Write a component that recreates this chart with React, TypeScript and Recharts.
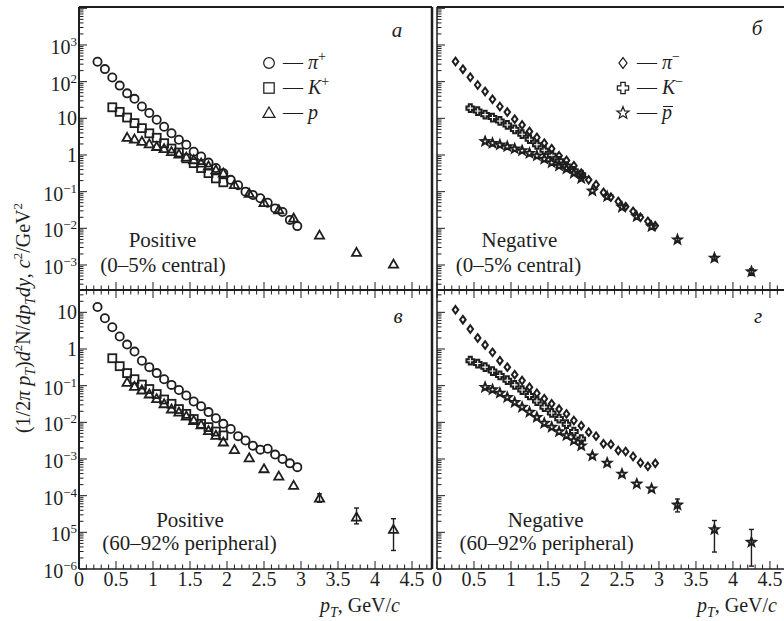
import React from "react";
import { ScatterChart, Scatter, XAxis, YAxis, ErrorBar, ReferenceLine, Legend } from "recharts";

// transverse-momentum bins, GeV/c
const pionPt = [0.25, 0.35, 0.45, 0.55, 0.65, 0.75, 0.85, 0.95, 1.05, 1.15, 1.25, 1.35, 1.45, 1.55, 1.65, 1.75, 1.85, 1.95, 2.05, 2.15, 2.25, 2.35, 2.45, 2.55, 2.65, 2.75, 2.85, 2.95];
const kaonPt = [0.45, 0.55, 0.65, 0.75, 0.85, 0.95, 1.05, 1.15, 1.25, 1.35, 1.45, 1.55, 1.65, 1.75, 1.85, 1.95];
const protonPt = [0.65, 0.75, 0.85, 0.95, 1.05, 1.15, 1.25, 1.35, 1.45, 1.55, 1.65, 1.75, 1.85, 1.95, 2.1, 2.3, 2.5, 2.7, 2.9, 3.25, 3.75, 4.25];
const errPt = [3.25, 3.75, 4.25];

// 0-5% central
const piPlusCentral = [350, 220, 130, 78, 48, 34, 21, 14, 9.1, 5.9, 3.9, 2.6, 1.9, 1.23, 0.91, 0.62, 0.44, 0.32, 0.21, 0.15, 0.1, 0.081, 0.066, 0.05, 0.035, 0.028, 0.017, 0.0115];
const kPlusCentral = [20, 15, 10.5, 7.4, 5.4, 3.9, 2.95, 2.1, 1.5, 1.17, 0.81, 0.6, 0.44, 0.32, 0.23, 0.18];
const pCentral = [3.0, 2.7, 2.35, 2.0, 1.7, 1.48, 1.23, 1.05, 0.87, 0.74, 0.6, 0.5, 0.39, 0.32, 0.155, 0.089, 0.05, 0.032, 0.019, 0.0065, 0.0022, 0.00105];
const piMinusCentral = [355, 219, 132, 81, 54, 33, 21, 14.8, 9.5, 6.6, 4.4, 3.0, 2.1, 1.48, 0.95, 0.71, 0.51, 0.32, 0.21, 0.155, 0.095, 0.071, 0.054, 0.039, 0.029, 0.02, 0.0155, 0.0117];
const kMinusCentral = [19, 15.8, 12.6, 10.5, 8.5, 6.6, 5.0, 3.7, 2.7, 1.9, 1.35, 0.98, 0.69, 0.5, 0.37, 0.29];
const pBarCentral = [2.35, 2.1, 1.9, 1.7, 1.48, 1.32, 1.12, 0.95, 0.78, 0.62, 0.51, 0.42, 0.32, 0.23, 0.105, 0.074, 0.038, 0.021, 0.0112, 0.0049, 0.00155, 0.00066];
const pBarCentralLo = [0.0045, 0.0014, 0.00052];
const pBarCentralHi = [0.0053, 0.0017, 0.00079];

// 60-92% peripheral
const piPlusPeriph = [14, 6.9, 3.9, 2.2, 1.32, 0.85, 0.48, 0.32, 0.22, 0.15, 0.105, 0.076, 0.054, 0.037, 0.0275, 0.019, 0.0129, 0.0091, 0.0066, 0.0042, 0.0032, 0.0023, 0.0018, 0.0019, 0.00132, 0.001, 0.00076, 0.0006];
const kPlusPeriph = [0.56, 0.34, 0.22, 0.15, 0.107, 0.081, 0.059, 0.042, 0.032, 0.023, 0.017, 0.0123, 0.0091, 0.0074, 0.0056, 0.0044];
const pPeriph = [0.123, 0.095, 0.076, 0.059, 0.044, 0.032, 0.023, 0.019, 0.0148, 0.0112, 0.0085, 0.0059, 0.0044, 0.0029, 0.0018, 0.00107, 0.00054, 0.00034, 0.00019, 0.000085, 0.000026, 0.000012];
const pPeriphLo = [0.000066, 0.000017, 0.0000032];
const pPeriphHi = [0.000112, 0.000046, 0.0000235];
const piMinusPeriph = [11.7, 6.3, 3.5, 2.0, 1.29, 0.81, 0.48, 0.32, 0.2, 0.138, 0.091, 0.062, 0.044, 0.032, 0.023, 0.017, 0.0112, 0.0081, 0.0054, 0.0042, 0.0026, 0.0025, 0.0017, 0.0016, 0.00117, 0.00079, 0.00063, 0.00076];
const kMinusPeriph = [0.48, 0.4, 0.32, 0.25, 0.19, 0.141, 0.105, 0.076, 0.054, 0.038, 0.026, 0.018, 0.0126, 0.0089, 0.0056, 0.0035];
const pBarPeriph = [0.091, 0.078, 0.063, 0.048, 0.035, 0.026, 0.019, 0.0138, 0.0095, 0.0074, 0.0056, 0.0044, 0.0032, 0.0023, 0.00123, 0.00078, 0.00039, 0.00021, 0.000155, 0.000056, 0.000012, 0.0000054];
const pBarPeriphLo = [0.000036, 0.0000029, 0.0000012];
const pBarPeriphHi = [0.000081, 0.000021, 0.000012];

// axis labels
const xMajor = [0, 0.5, 1, 1.5, 2, 2.5, 3, 3.5, 4, 4.5];
const xTickLabels = ["0", "0.5", "1", "1.5", "2", "2.5", "3", "3.5", "4", "4.5"];
const topDecades = [-3, -2, -1, 0, 1, 2, 3];
const topYLabels = [["10", "−3"], ["10", "−2"], ["10", "−1"], ["1", ""], ["10", ""], ["10", "2"], ["10", "3"]];
const bottomDecades = [-6, -5, -4, -3, -2, -1, 0, 1];
const bottomYLabels = [["10", "−6"], ["10", "5"], ["10", "−4"], ["10", "−3"], ["10", "−2"], ["10", "−1"], ["1", ""], ["10", ""]];

const INK = "#1e1e1e";
const SERIF = '"Liberation Serif", "Times New Roman", serif';

type Kind = "circle" | "square" | "triangle" | "diamond" | "plus" | "star";

function Mark({ kind, cx, cy, s = 1, sw = 1.5 }: { kind: Kind; cx: number; cy: number; s?: number; sw?: number }) {
  const st = { fill: "none", stroke: INK, strokeWidth: sw };
  if (kind === "circle") return <circle cx={cx} cy={cy} r={4.1 * s} {...st} />;
  if (kind === "square") {
    const h = 4 * s;
    return <rect x={cx - h} y={cy - h} width={2 * h} height={2 * h} {...st} />;
  }
  if (kind === "triangle") {
    const h = 4.6 * s;
    return <polygon points={`${cx},${cy - h} ${cx + h},${cy + h * 0.75} ${cx - h},${cy + h * 0.75}`} {...st} />;
  }
  if (kind === "diamond") {
    const w = 3.1 * s, h = 4.2 * s;
    return <polygon points={`${cx},${cy - h} ${cx + w},${cy} ${cx},${cy + h} ${cx - w},${cy}`} {...st} />;
  }
  if (kind === "plus") {
    const a = 1.7 * s, e = 4.3 * s;
    const d = `M${cx - a},${cy - e}H${cx + a}V${cy - a}H${cx + e}V${cy + a}H${cx + a}V${cy + e}H${cx - a}V${cy + a}H${cx - e}V${cy - a}H${cx - a}Z`;
    return <path d={d} {...st} />;
  }
  const pts: string[] = [];
  for (let i = 0; i < 10; i++) {
    const r = (i % 2 ? 2.1 : 4.9) * s;
    const ang = ((-90 + i * 36) * Math.PI) / 180;
    pts.push(`${cx + r * Math.cos(ang)},${cy + r * Math.sin(ang)}`);
  }
  return <polygon points={pts.join(" ")} {...st} />;
}

type SeriesDef = {
  name: string;
  kind: Kind;
  label: React.ReactNode;
  xs: number[];
  ys: number[];
  lo?: number[];
  hi?: number[];
  s: number;
  sw: number;
};

const rows = (d: SeriesDef) =>
  d.xs.map((x, i) => {
    const r: any = { x, y: d.ys[i] };
    const k = errPt.indexOf(x);
    if (d.lo && d.hi && k >= 0) r.err = [d.ys[i] - d.lo[k], d.hi[k] - d.ys[i]];
    return r;
  });

const logTicks = (lo: number, hi: number) => {
  const out: number[] = [];
  for (let k = Math.floor(lo); k <= Math.ceil(hi); k++) {
    for (let m = 1; m <= 9; m++) {
      const v = m * Math.pow(10, k);
      const l = Math.log10(v);
      if (l >= lo && l <= hi) out.push(v);
    }
  }
  return out;
};

function makeYTick(labels: string[][] | null, decades: number[]) {
  return (p: any) => {
    const { x, y, payload } = p;
    const lg = Math.log10(payload.value);
    const major = Math.abs(lg - Math.round(lg)) < 1e-6;
    const idx = decades.indexOf(Math.round(lg));
    const lab = major && labels && idx >= 0 ? labels[idx] : null;
    return (
      <g>
        <line x1={x} x2={x + (major ? 8 : 4.5)} y1={y} y2={y} stroke={INK} strokeWidth={1} />
        {lab && (
          <text x={x - 2} y={y + (lab[1] ? 9 : 7)} textAnchor="end" fontFamily={SERIF} fontSize={20} fill={INK}>
            {lab[0]}
            {lab[1] && (
              <tspan dy={-8} fontSize={13}>
                {lab[1]}
              </tspan>
            )}
          </text>
        )}
      </g>
    );
  };
}

function makeXTick(mode: "mid" | "bottom") {
  return (p: any) => {
    const { x, y, payload } = p;
    const v = payload.value;
    const idx = xMajor.findIndex((m) => Math.abs(m - v) < 1e-6);
    const len = idx >= 0 ? 8 : 4.5;
    return (
      <g>
        <line x1={x} x2={x} y1={y - len} y2={mode === "mid" ? y + len : y} stroke={INK} strokeWidth={1} />
        {mode === "bottom" && idx >= 0 && (
          <text x={x} y={y + 17} textAnchor="middle" fontFamily={SERIF} fontSize={20} fill={INK}>
            {xTickLabels[idx]}
          </text>
        )}
      </g>
    );
  };
}

type PanelProps = {
  left: number;
  right: number;
  top: number;
  bottom: number;
  xMax: number;
  logLo: number;
  logHi: number;
  isTop: boolean;
  isLeft: boolean;
  series: SeriesDef[];
  labels: string[][] | null;
  decades: number[];
  legendAt?: { left: number; top: number };
};

function Panel(p: PanelProps) {
  const xTicks: number[] = [];
  for (let i = 0; i * 0.1 <= p.xMax + 1e-9; i++) xTicks.push(Math.round(i) / 10);
  const yLo = Math.pow(10, p.logLo);
  const yHi = Math.pow(10, p.logHi);
  const renderLegend = (lp: any) => {
    const items = lp.payload || [];
    return (
      <div style={{ fontFamily: SERIF, fontSize: 20, color: INK, lineHeight: "25px" }}>
        {p.series
          .filter((s) => items.some((e: any) => e.value === s.name))
          .map((s) => (
            <div key={s.name} style={{ height: 25, display: "flex", alignItems: "center", whiteSpace: "nowrap" }}>
              <svg width={16} height={16}>
                <Mark kind={s.kind} cx={8} cy={8} s={1.3} sw={1.25} />
              </svg>
              <span style={{ marginLeft: 6 }}>— {s.label}</span>
            </div>
          ))}
      </div>
    );
  };
  return (
    <div style={{ position: "absolute", left: 0, top: 0 }}>
      <ScatterChart
        width={784}
        height={621}
        margin={{ top: p.top, left: p.left - 1, right: 784 - p.right, bottom: 621 - p.bottom - 1 }}
      >
        <XAxis
          type="number"
          dataKey="x"
          domain={[0, p.xMax]}
          allowDataOverflow
          ticks={xTicks}
          interval={0}
          height={1}
          tickSize={0}
          tickMargin={0}
          tickLine={false}
          tick={makeXTick(p.isTop ? "mid" : "bottom")}
          axisLine={{ stroke: INK, strokeWidth: p.isTop ? 2 : 1.5 }}
        />
        <YAxis
          type="number"
          dataKey="y"
          scale="log"
          domain={[yLo, yHi]}
          allowDataOverflow
          ticks={logTicks(p.logLo, p.logHi)}
          interval={0}
          width={1}
          tickSize={0}
          tickMargin={0}
          tickLine={false}
          tick={makeYTick(p.isLeft ? p.labels : null, p.decades)}
          axisLine={{ stroke: INK, strokeWidth: p.isLeft ? 2 : 1.5 }}
        />
        {p.isTop && <ReferenceLine y={yHi} stroke={INK} strokeWidth={2} />}
        {p.isLeft && <ReferenceLine x={p.xMax} stroke={INK} strokeWidth={2.5} />}
        {p.series.map((d) => (
          <Scatter
            key={d.name}
            name={d.name}
            data={rows(d)}
            isAnimationActive={false}
            shape={(sp: any) => <Mark kind={d.kind} cx={sp.cx} cy={sp.cy} s={d.s} sw={d.sw} />}
          >
            {d.lo && <ErrorBar dataKey="err" direction="y" width={2.5} stroke={INK} strokeWidth={1.4} />}
          </Scatter>
        ))}
        {p.legendAt && (
          <Legend
            layout="vertical"
            align="center"
            verticalAlign="middle"
            wrapperStyle={{ left: p.legendAt.left, top: p.legendAt.top, width: 90 }}
            content={renderLegend}
          />
        )}
      </ScatterChart>
    </div>
  );
}

const sup = (t: string) => <sup style={{ fontSize: 14, lineHeight: 0 }}>{t}</sup>;
const piPlusLabel = <><i>π</i>{sup("+")}</>;
const kPlusLabel = <><i>K</i>{sup("+")}</>;
const pLabel = <i>p</i>;
const piMinusLabel = <><i>π</i>{sup("−")}</>;
const kMinusLabel = <><i>K</i>{sup("−")}</>;
const pBarLabel = (
  <span style={{ position: "relative", display: "inline-block" }}>
    <i>p</i>
    <span style={{ position: "absolute", left: 1, right: -1, top: 6, borderTop: "1.3px solid " + INK }} />
  </span>
);

export default function App() {
  const pos = (xs: number[], ys: number[], kind: Kind, name: string, label: React.ReactNode, lo?: number[], hi?: number[]): SeriesDef => ({
    name, kind, label, xs, ys, lo, hi, s: 1, sw: 1.8,
  });
  const neg = (xs: number[], ys: number[], kind: Kind, name: string, label: React.ReactNode, lo?: number[], hi?: number[]): SeriesDef => ({
    name, kind, label, xs, ys, lo, hi, s: 0.9, sw: 2,
  });
  const tl = [
    pos(pionPt, piPlusCentral, "circle", "pi+", piPlusLabel),
    pos(kaonPt, kPlusCentral, "square", "K+", kPlusLabel),
    pos(protonPt, pCentral, "triangle", "p", pLabel),
  ];
  const tr = [
    neg(pionPt, piMinusCentral, "diamond", "pi-", piMinusLabel),
    neg(kaonPt, kMinusCentral, "plus", "K-", kMinusLabel),
    neg(protonPt, pBarCentral, "star", "pbar", pBarLabel, pBarCentralLo, pBarCentralHi),
  ];
  const bl = [
    pos(pionPt, piPlusPeriph, "circle", "pi+", piPlusLabel),
    pos(kaonPt, kPlusPeriph, "square", "K+", kPlusLabel),
    pos(protonPt, pPeriph, "triangle", "p", pLabel, pPeriphLo, pPeriphHi),
  ];
  const br = [
    neg(pionPt, piMinusPeriph, "diamond", "pi-", piMinusLabel),
    neg(kaonPt, kMinusPeriph, "plus", "K-", kMinusLabel),
    neg(protonPt, pBarPeriph, "star", "pbar", pBarLabel, pBarPeriphLo, pBarPeriphHi),
  ];
  const topLog = { logLo: -3.682, logHi: 4.036 };
  const botLog = { logLo: -6, logHi: 1.609 };
  const it = { fontStyle: "italic" as const };
  return (
    <div style={{ position: "absolute", left: 0, top: 0, width: 784, height: 621, background: "#fff", overflow: "hidden" }}>
      <Panel left={79} right={432} top={7} bottom={290} xMax={4.77} {...topLog} isTop isLeft series={tl} labels={topYLabels} decades={topDecades} legendAt={{ left: 261, top: 50 }} />
      <Panel left={437} right={784} top={7} bottom={290} xMax={4.69} {...topLog} isTop isLeft={false} series={tr} labels={null} decades={topDecades} legendAt={{ left: 615, top: 50 }} />
      <Panel left={79} right={432} top={290} bottom={569} xMax={4.77} {...botLog} isTop={false} isLeft series={bl} labels={bottomYLabels} decades={bottomDecades} />
      <Panel left={437} right={784} top={290} bottom={569} xMax={4.69} {...botLog} isTop={false} isLeft={false} series={br} labels={null} decades={bottomDecades} />
      <svg width={784} height={621} style={{ position: "absolute", left: 0, top: 0, pointerEvents: "none" }} fontFamily={SERIF} fill={INK}>
        <g fontSize={21} textAnchor="middle">
          <text x={162.5} y={247}>Positive</text>
          <text x={163} y={272}>(0–5% central)</text>
          <text x={519.5} y={247}>Negative</text>
          <text x={518.5} y={272}>(0–5% central)</text>
          <text x={190} y={527}>Positive</text>
          <text x={189.5} y={550}>(60–92% peripheral)</text>
          <text x={545.6} y={527}>Negative</text>
          <text x={546.7} y={550}>(60–92% peripheral)</text>
        </g>
        <g fontSize={21} textAnchor="middle" {...it}>
          <text x={397} y={37}>а</text>
          <text x={757} y={35}>б</text>
          <text x={398} y={323}>в</text>
          <text x={758} y={323}>г</text>
        </g>
        <g fontSize={20} textAnchor="end">
          <text x={400} y={612}>
            <tspan {...it}>p</tspan>
            <tspan fontSize={14} dy={5} {...it}>T</tspan>
            <tspan dy={-5}>, GeV/</tspan>
            <tspan {...it}>c</tspan>
          </text>
          <text x={777} y={612}>
            <tspan {...it}>p</tspan>
            <tspan fontSize={14} dy={5} {...it}>T</tspan>
            <tspan dy={-5}>, GeV/</tspan>
            <tspan {...it}>c</tspan>
          </text>
        </g>
        <text transform="translate(30,318) rotate(-90)" textAnchor="middle" fontSize={20}>
          (1/2<tspan {...it}>π p</tspan>
          <tspan fontSize={14} dy={5} {...it}>T</tspan>
          <tspan dy={-5}>)</tspan>
          <tspan {...it}>d</tspan>
          <tspan fontSize={13} dy={-8}>2</tspan>
          <tspan dy={8}>N/</tspan>
          <tspan {...it}>dp</tspan>
          <tspan fontSize={14} dy={5} {...it}>T</tspan>
          <tspan dy={-5} {...it}>dy</tspan>
          <tspan>, </tspan>
          <tspan {...it}>c</tspan>
          <tspan fontSize={13} dy={-8}>2</tspan>
          <tspan dy={8}>/GeV</tspan>
          <tspan fontSize={13} dy={-8}>2</tspan>
        </text>
      </svg>
    </div>
  );
}
